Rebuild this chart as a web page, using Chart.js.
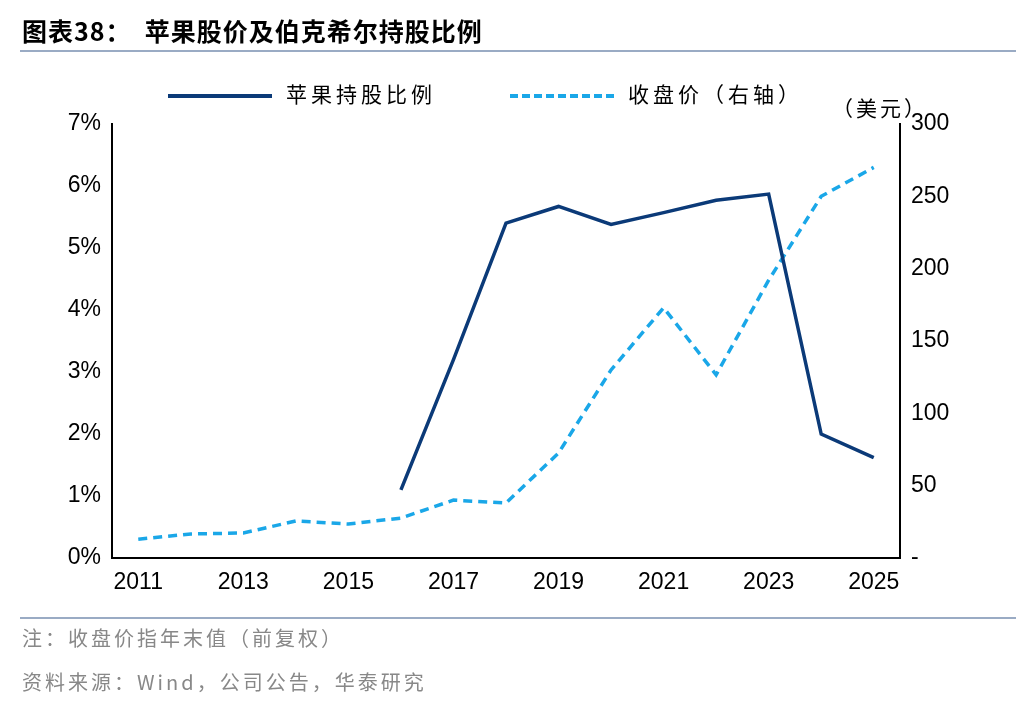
<!DOCTYPE html>
<html>
<head>
<meta charset="utf-8">
<script src="https://cdn.jsdelivr.net/npm/chart.js@4/dist/chart.umd.min.js"></script>
<style>
  body { margin: 0; background: #fff; font-family: "Liberation Sans", Arial, sans-serif; }
  #wrap { position: relative; width: 1036px; height: 708px; }
  canvas { position: absolute; left: 0; top: 0; }
  .txt { position: absolute; white-space: nowrap; font-family: "Noto Sans CJK SC", sans-serif; }
  .rule { position: absolute; left: 20px; width: 996px; height: 2px; background: #9aabc4; }
</style>
</head>
<body>
<div id="wrap">
  <canvas id="chart" width="1036" height="708"></canvas>
  <div class="txt" style="left:22px;top:12px;font-size:25px;font-weight:bold;letter-spacing:1px;">图表38：&nbsp; 苹果股价及伯克希尔持股比例</div>
  <div class="rule" style="top:50px;"></div>
  <div class="txt" style="left:168px;top:78px;font-size:21px;letter-spacing:4px;"><span style="display:inline-block;width:104px;height:4px;background:#0b3a78;vertical-align:middle;margin-right:14px;"></span>苹果持股比例</div>
  <div class="txt" style="left:510px;top:78px;font-size:21px;letter-spacing:4px;"><span style="display:inline-block;width:104px;border-top:4px dashed #1aa7e8;vertical-align:middle;margin-right:14px;"></span>收盘价（右轴）</div>
  <div class="txt" style="left:832px;top:92px;font-size:21px;letter-spacing:3px;">（美元）</div>
  <div class="rule" style="top:617px;"></div>
  <div class="txt" style="left:22px;top:623px;font-size:20px;color:#888;letter-spacing:3px;">注：收盘价指年末值（前复权）</div>
  <div class="txt" style="left:22px;top:667px;font-size:20px;color:#888;letter-spacing:3px;">资料来源：Wind，公司公告，华泰研究</div>
</div>
<script>
var years = ["2011","2012","2013","2014","2015","2016","2017","2018","2019","2020","2021","2022","2023","2024","2025"];
var appleShare = [null, null, null, null, null, 1.1, 3.2, 5.4, 5.67, 5.38, 5.57, 5.77, 5.87, 2.0, 1.62];
var closePrice = [13, 16.6, 17.3, 25.6, 23.5, 27.6, 40, 38, 72.6, 130, 173, 126.6, 192, 250, 270];

var tickFont = { family: "Liberation Sans, Arial, sans-serif", size: 23 };

new Chart(document.getElementById('chart'), {
  type: 'line',
  data: {
    labels: years,
    datasets: [{
      label: '苹果持股比例',
      data: appleShare,
      borderColor: '#0b3a78',
      borderWidth: 3.5,
      pointRadius: 0,
      tension: 0,
      yAxisID: 'y'
    }, {
      label: '收盘价（右轴）',
      data: closePrice,
      borderColor: '#1aa7e8',
      borderWidth: 3.5,
      borderDash: [9, 6],
      pointRadius: 0,
      tension: 0,
      yAxisID: 'y2'
    }]
  },
  options: {
    responsive: false,
    animation: false,
    layout: { padding: { top: 124, left: 0, right: 0, bottom: 0 } },
    plugins: { legend: { display: false }, tooltip: { enabled: false } },
    scales: {
      x: {
        offset: true,
        grid: { display: false, drawTicks: true, tickLength: 8, color: '#000', offset: false },
        border: { color: '#000', width: 2 },
        ticks: {
          autoSkip: false, maxRotation: 0, color: '#000', font: tickFont,
          callback: function(v, i) { return i % 2 === 0 ? years[i] : ''; }
        },
        afterFit: function(s) { s.height = 150; }
      },
      y: {
        position: 'left', min: 0, max: 7,
        grid: { display: false, drawTicks: true, tickLength: 8 },
        border: { color: '#000', width: 2 },
        ticks: { stepSize: 1, color: '#000', font: tickFont, callback: function(v) { return v + '%'; } },
        afterFit: function(s) { s.width = 112; }
      },
      y2: {
        position: 'right', min: 0, max: 300,
        grid: { display: false, drawTicks: true, tickLength: 8 },
        border: { color: '#000', width: 2 },
        ticks: { stepSize: 50, color: '#000', font: tickFont, callback: function(v) { return v === 0 ? '-' : v; } },
        afterFit: function(s) { s.width = 136; }
      }
    }
  }
});
</script>
</body>
</html>
